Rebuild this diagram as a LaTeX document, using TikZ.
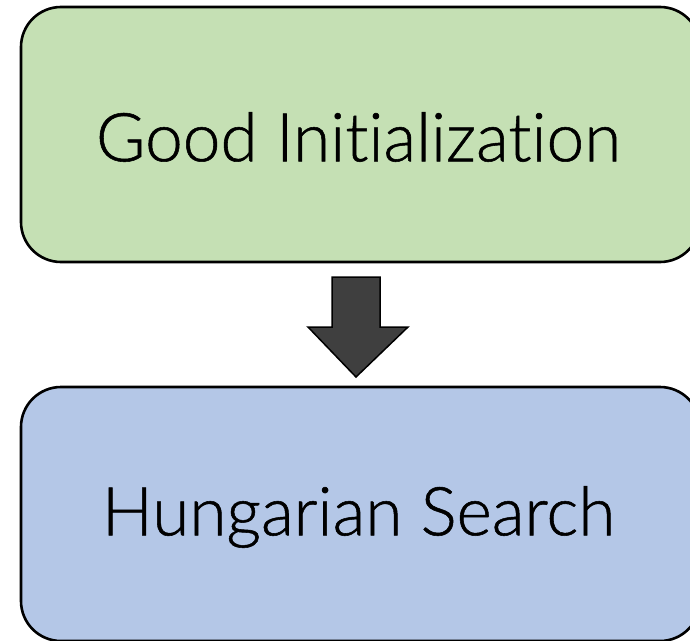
\documentclass[tikz,border=0pt]{standalone}
\usepackage{fontspec}
\setmainfont{Lato Light}[Ligatures={NoCommon},FakeBold=0.8]
\definecolor{boxgreen}{HTML}{C5E0B4}
\definecolor{boxblue}{HTML}{B4C7E7}
\definecolor{arrowgray}{HTML}{3F3F3F}
\begin{document}
\begin{tikzpicture}[x=1pt,y=-1pt,
  stagebox/.style={draw=black,line width=2.6pt,rounded corners=40pt},
  stagetext/.style={font=\fontsize{67.5}{80}\selectfont,inner sep=0pt}]
\useasboundingbox (0,0) rectangle (690,640);
\begin{scope}
\clip (0,0) rectangle (690,640);
\draw[stagebox,fill=boxgreen] (21,7) rectangle (700,262);
\draw[stagebox,fill=boxblue] (21,387) rectangle (700,641);
\end{scope}
\node[stagetext] (top) at (358.5,137) {Good Initialization};
\node[stagetext] (bot) at (358.5,517) {Hungarian Search};
\coordinate (a1) at (332,277);
\coordinate (a2) at (380,277);
\coordinate (a3) at (380,327);
\coordinate (a4) at (408,327);
\coordinate (a5) at (356,377);
\coordinate (a6) at (308,327);
\coordinate (a7) at (332,327);
\draw[fill=arrowgray,line width=1.5pt,line join=miter] (a1) -- (a2) -- (a3) -- (a4) -- (a5) -- (a6) -- (a7) -- cycle;
\end{tikzpicture}
\end{document}
